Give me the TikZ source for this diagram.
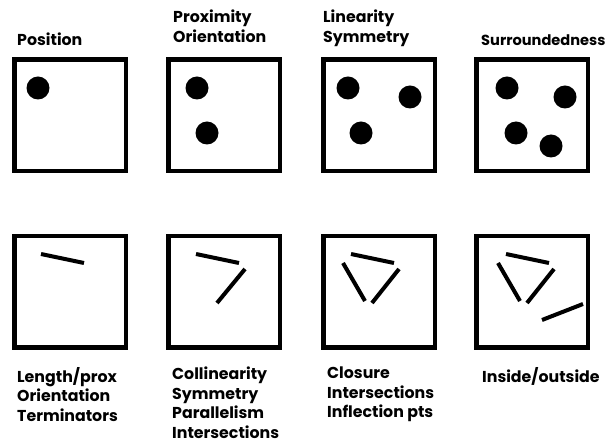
\documentclass[tikz,border=0pt]{standalone}
\usepackage{fontspec}
\setmainfont{Poppins}
\usetikzlibrary{positioning}

\begin{document}
\begin{tikzpicture}[x=1pt, y=-1pt,
  frame/.style={draw, line width=4.5pt, minimum size=111.5pt, inner sep=0pt},
  dot/.style={fill=black},
  bar/.style={line width=4pt},
  lbl/.style={font=\fontsize{15.8}{19.5}\selectfont\bfseries, align=left, inner sep=0pt}]
  \useasboundingbox (0,0) rectangle (613,443);
  % top row: dots
  \node[frame] (pos) at (70,115.5) {};
  \node[frame] (prox) at (224,115.5) {};
  \node[frame] (lin) at (379,115.5) {};
  \node[frame] (sur) at (532,115.5) {};
  \fill[dot] (38,88) circle (11.5);
  \fill[dot] (197,88) circle (11.5) (207,133) circle (11.5);
  \fill[dot] (348,88) circle (11.5) (410,97) circle (11.5) (361,133) circle (11.5);
  \fill[dot] (507,88) circle (11.5) (565,97) circle (11.5) (516,133) circle (11.5) (551,146) circle (11.5);
  % bottom row: bars
  \node[frame] (len) at (70,292) {};
  \node[frame] (col) at (224,292) {};
  \node[frame] (clo) at (379,292) {};
  \node[frame] (ins) at (532,292) {};
  \draw[bar] (41,254) -- (84,263);
  \draw[bar] (196,254) -- (239,263) (245,269) -- (217,303);
  \draw[bar] (351,254) -- (394,263) (343,263) -- (365,301) (399,269) -- (372,303);
  \draw[bar] (506,254) -- (549,263) (498,263) -- (520,301) (554,269) -- (527,303)
             (542,320) -- (583,304);
  % labels
  \node[lbl, anchor=base west] at ([xshift=5pt, yshift=11.75pt]pos.north west) {Position};
  \node[lbl, anchor=base west] at ([xshift=7pt, yshift=15pt]prox.north west) {Proximity\\Orientation};
  \node[lbl, anchor=base west] at ([xshift=2pt, yshift=15pt]lin.north west) {Linearity\\Symmetry};
  \node[lbl, anchor=base west, font=\fontsize{14.6}{20}\selectfont\bfseries]
    at ([xshift=7pt, yshift=11.75pt]sur.north west) {Surroundedness};
  \node[lbl, anchor=north west] at ([xshift=5pt, yshift=-17pt]len.south west) {Length/prox\\Orientation\\Terminators};
  \node[lbl, anchor=north west] at ([xshift=6pt, yshift=-17pt]col.south west) {Collinearity\\Symmetry\\Parallelism\\Intersections};
  \node[lbl, anchor=north west] at ([xshift=6pt, yshift=-17pt]clo.south west) {Closure\\Intersections\\Inflection pts};
  \node[lbl, anchor=north west] at ([xshift=8pt, yshift=-17pt]ins.south west) {Inside/outside};
\end{tikzpicture}
\end{document}
